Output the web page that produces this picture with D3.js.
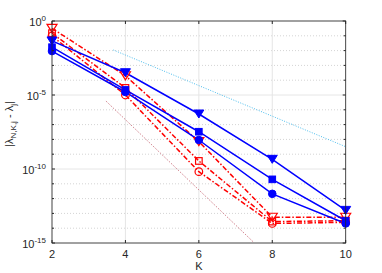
<!DOCTYPE html>
<html>
<head>
<meta charset="utf-8">
<script src="https://cdn.jsdelivr.net/npm/d3@7"></script>
<style>
  body { margin: 0; background: #fff; }
  text { font-family: "Liberation Sans", Arial, sans-serif; fill: #262626; }
</style>
</head>
<body>
<script>
var K = [2, 4, 6, 8, 10];

// blue, solid, filled markers
var blueTri = [4.5e-2, 3.2e-4, 5.2e-7, 4.5e-10, 1.6e-13];
var blueSq = [1.7e-2, 2.2e-5, 3.3e-8, 2.0e-11, 3.2e-14];
var blueCirc = [9.3e-3, 1.6e-5, 9.1e-9, 2.1e-12, 2.1e-14];

// red, dash-dot, open markers
var redTri = [3.2e-1, 2.0e-4, 7.1e-9, 5.5e-14, 5.5e-14];
var redSq = [1.5e-1, 3.0e-5, 3.5e-10, 2.8e-14, 3.2e-14];
var redCirc = [9.8e-2, 1.0e-5, 6.6e-11, 2.1e-14, 2.5e-14];

// reference slopes
var refBlueK = [3.67, 10];
var refBlueV = [1.1e-2, 3.2e-9];
var refPinkK = [3.47, 7.48];
var refPinkV = [3.9e-6, 1.2e-15];

var xTicks = [2, 4, 6, 8, 10];
var yMajor = [0, -5, -10, -15];

var w = 382, h = 273;
var pLeft = 52, pRight = 345.7, pTop = 21, pBottom = 243;

var x = d3.scaleLinear().domain([2, 10]).range([pLeft, pRight]);
var y = d3.scaleLog().domain([1e-15, 1]).range([pBottom, pTop]);

var svg = d3.select("body").append("svg")
  .attr("width", w)
  .attr("height", h);

// grid
var decades = d3.range(-15, 1);
svg.selectAll(".minor")
  .data(decades.filter(function(d) { return d % 5 !== 0; }))
  .enter().append("line")
  .attr("x1", pLeft).attr("x2", pRight)
  .attr("y1", function(d) { return y(Math.pow(10, d)); })
  .attr("y2", function(d) { return y(Math.pow(10, d)); })
  .attr("stroke", "#d4d4d4")
  .attr("stroke-dasharray", "1,2");
svg.selectAll(".major")
  .data(yMajor)
  .enter().append("line")
  .attr("x1", pLeft).attr("x2", pRight)
  .attr("y1", function(d) { return y(Math.pow(10, d)); })
  .attr("y2", function(d) { return y(Math.pow(10, d)); })
  .attr("stroke", "#e6e6e6");
svg.selectAll(".vgrid")
  .data(xTicks)
  .enter().append("line")
  .attr("x1", function(d) { return x(d); })
  .attr("x2", function(d) { return x(d); })
  .attr("y1", pTop).attr("y2", pBottom)
  .attr("stroke", "#e6e6e6");

// reference lines
var line = d3.line()
  .x(function(d) { return x(d[0]); })
  .y(function(d) { return y(d[1]); });

svg.append("path")
  .attr("d", line(d3.zip(refBlueK, refBlueV)))
  .attr("fill", "none")
  .attr("stroke", "#4DBEEE")
  .attr("stroke-width", 1)
  .attr("stroke-dasharray", "1,1.5");
svg.append("path")
  .attr("d", line(d3.zip(refPinkK, refPinkV)))
  .attr("fill", "none")
  .attr("stroke", "#c4606e")
  .attr("stroke-width", 1)
  .attr("stroke-dasharray", "1,1.5");

var series = [
  {v: redTri, c: "#ff0000", m: "tri", filled: false},
  {v: redSq, c: "#ff0000", m: "sq", filled: false},
  {v: redCirc, c: "#ff0000", m: "circ", filled: false},
  {v: blueTri, c: "#0000ff", m: "tri", filled: true},
  {v: blueSq, c: "#0000ff", m: "sq", filled: true},
  {v: blueCirc, c: "#0000ff", m: "circ", filled: true}
];

series.forEach(function(s) {
  svg.append("path")
    .attr("d", line(d3.zip(K, s.v)))
    .attr("fill", "none")
    .attr("stroke", s.c)
    .attr("stroke-width", 1.5)
    .attr("stroke-dasharray", s.filled ? null : "5,2,1.5,2");
});

series.forEach(function(s) {
  var g = svg.append("g");
  var pts = d3.zip(K, s.v);
  var sel = g.selectAll(".m").data(pts).enter();
  var mk;
  if (s.m === "tri") {
    mk = sel.append("path")
      .attr("d", "M-5,-4L5,-4L0,4Z")
      .attr("transform", function(d) { return "translate(" + x(d[0]) + "," + y(d[1]) + ")"; });
  } else if (s.m === "sq") {
    mk = sel.append("rect")
      .attr("x", function(d) { return x(d[0]) - 3.3; })
      .attr("y", function(d) { return y(d[1]) - 3.3; })
      .attr("width", 6.6).attr("height", 6.6);
  } else {
    mk = sel.append("circle")
      .attr("cx", function(d) { return x(d[0]); })
      .attr("cy", function(d) { return y(d[1]); })
      .attr("r", 3.8);
  }
  mk.attr("fill", s.filled ? s.c : "none")
    .attr("stroke", s.c)
    .attr("stroke-width", s.filled ? 1 : 1.2);
});

// box
svg.append("rect")
  .attr("x", pLeft).attr("y", pTop)
  .attr("width", pRight - pLeft).attr("height", pBottom - pTop)
  .attr("fill", "none")
  .attr("stroke", "#262626")
  .attr("stroke-width", 0.8);

// ticks
xTicks.forEach(function(t) {
  svg.append("line").attr("x1", x(t)).attr("x2", x(t))
    .attr("y1", pBottom).attr("y2", pBottom - 3).attr("stroke", "#262626");
  svg.append("line").attr("x1", x(t)).attr("x2", x(t))
    .attr("y1", pTop).attr("y2", pTop + 3).attr("stroke", "#262626");
  svg.append("text")
    .attr("x", x(t)).attr("y", 258)
    .attr("text-anchor", "middle")
    .attr("font-size", 11)
    .text(t);
});
decades.forEach(function(d) {
  var len = d % 5 === 0 ? 3 : 2;
  var yy = y(Math.pow(10, d));
  svg.append("line").attr("x1", pLeft).attr("x2", pLeft + len)
    .attr("y1", yy).attr("y2", yy).attr("stroke", "#262626");
  svg.append("line").attr("x1", pRight).attr("x2", pRight - len)
    .attr("y1", yy).attr("y2", yy).attr("stroke", "#262626");
});
yMajor.forEach(function(d) {
  var t = svg.append("text")
    .attr("x", 46).attr("y", y(Math.pow(10, d)) + 5)
    .attr("text-anchor", "end")
    .attr("font-size", 11);
  t.append("tspan").text("10");
  t.append("tspan").attr("dy", -5).attr("font-size", 8).text(d);
});

// labels
svg.append("text")
  .attr("x", x(6)).attr("y", 270)
  .attr("text-anchor", "middle")
  .attr("font-size", 11)
  .text("K");

var yl = svg.append("text")
  .attr("transform", "translate(13,124) rotate(-90)")
  .attr("text-anchor", "middle")
  .attr("font-size", 11);
yl.append("tspan").text("|λ");
yl.append("tspan").attr("dy", 3).attr("font-size", 8).text("N,K,j");
yl.append("tspan").attr("dy", -3).text(" - λ");
yl.append("tspan").attr("dy", 3).attr("font-size", 8).text("j");
yl.append("tspan").attr("dy", -3).text("|");
</script>
</body>
</html>
